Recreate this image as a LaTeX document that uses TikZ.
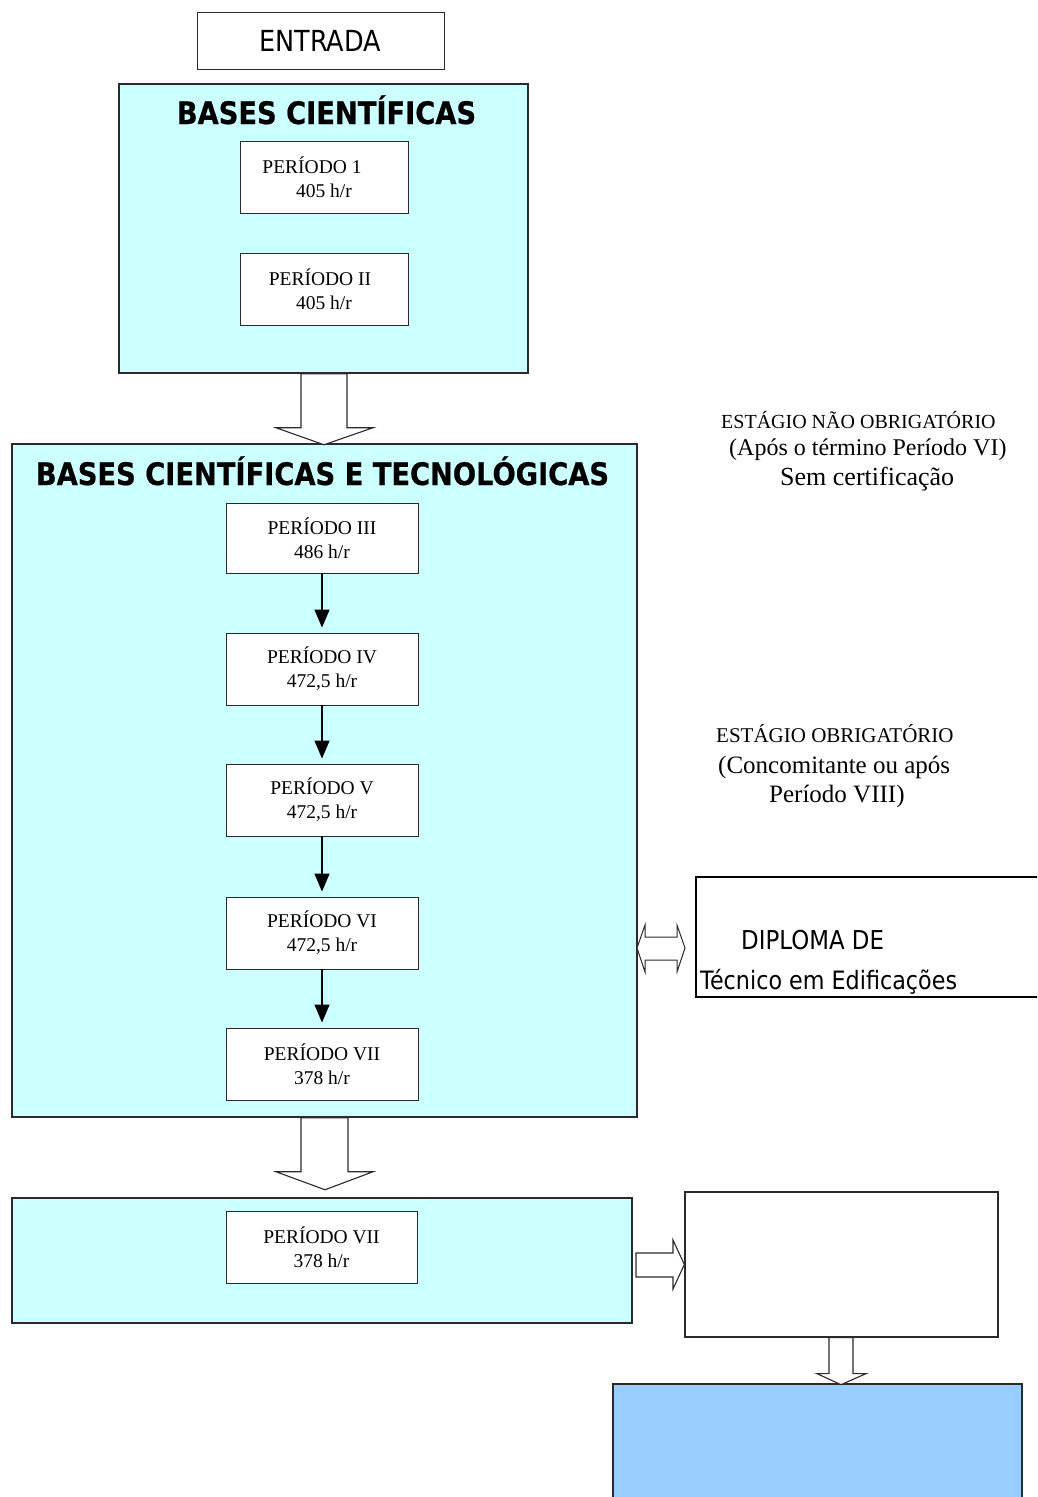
\documentclass[tikz,border=0pt]{standalone}
\usepackage{fontspec}
\setmainfont{Liberation Serif}
\newfontfamily\tah[FakeStretch=0.88, BoldFeatures={FakeBold=0.6}]{DejaVu Sans}
\usetikzlibrary{calc,arrows.meta}
\definecolor{lcyan}{HTML}{CCFFFF}
\definecolor{lblue}{HTML}{99CCFF}
\definecolor{edge}{HTML}{2A2A2A}
\begin{document}
\begin{tikzpicture}[x=1pt,y=-1pt,
  panel/.style={draw=edge, line width=1.5pt, fill=lcyan, inner sep=0pt},
  perbox/.style={draw=edge, line width=0.9pt, fill=white, minimum width=#1, minimum height=72pt,
     align=center, inner sep=0pt, font=\fontsize{19.5}{24}\selectfont},
  plainbox/.style={draw=edge, line width=1.3pt, fill=white, inner sep=0pt},
  blockarrow/.style={draw=edge, line width=1.1pt, fill=white, line join=miter},
  thinarrow/.style={draw=black, line width=1.3pt, shorten >=5pt, -{Triangle[length=18pt,width=15pt]}},
  title/.style={font=\tah\bfseries\fontsize{31}{36}\selectfont, inner sep=0pt, anchor=base},
  sanslbl/.style={font=\tah\fontsize{26}{31}\selectfont, inner sep=0pt},
  note/.style={inner sep=0pt, anchor=base west}
]
\useasboundingbox (0,0) rectangle (1037,1497);
\clip (0,0) rectangle (1037,1497);

% ENTRADA
\node[draw=edge, line width=1pt, minimum width=247pt, minimum height=57pt, inner sep=0pt] (ent) at (320.5,40.5) {};
\node[sanslbl, anchor=base, font=\tah\fontsize{29}{34}\selectfont] (entt) at (320,51.5) {ENTRADA};

% Panel 1
\node[panel, minimum width=409pt, minimum height=289pt] (b1) at (323.5,228.5) {};
\node[title] (t1) at (326.5,124) {BASES CIENTÍFICAS};
\node[perbox=168pt] (p1) at (324,177) {PERÍODO 1\hspace*{24pt}\\405 h/r};
\node[perbox=168pt] (p2) at (324,289) {PERÍODO II\hspace*{8pt}\\405 h/r};

% Panel 2
\node[panel, minimum width=625pt, minimum height=673pt] (b2) at (324.5,780.5) {};
\node[title] (t2) at (322.5,485) {BASES CIENTÍFICAS E TECNOLÓGICAS};
\node[perbox=192pt, minimum height=70pt] (p3) at (322,538) {PERÍODO III\\486 h/r};
\node[perbox=192pt] (p4) at (322,669) {PERÍODO IV\\472,5 h/r};
\node[perbox=192pt] (p5) at (322,800) {PERÍODO V\\472,5 h/r};
\node[perbox=192pt] (p6) at (322,933) {PERÍODO VI\\472,5 h/r};
\node[perbox=192pt] (p7) at (322,1064) {PERÍODO VII\\378 h/r};

\draw[thinarrow] (p3.south) -- (p4.north);
\draw[thinarrow] (p4.south) -- (p5.north);
\draw[thinarrow] (p5.south) -- (p6.north);
\draw[thinarrow] (p6.south) -- (p7.north);

% Panel 3
\node[panel, minimum width=620pt, minimum height=125pt] (b3) at (322,1260.5) {};
\node[perbox=191pt] (p8) at (321.5,1247) {PERÍODO VII\\378 h/r};

% Block arrow b1 -> b2
\draw[blockarrow] ($(b1.south)+(-22.5,0)$) -- ++(0,54) -- ++(-25,0)
   -- ($(b1.south)+(0.5,71)$) -- ($(b1.south)+(49.5,54)$) -- ++(-26,0) -- ++(0,-54) -- cycle;

% Block arrow b2 -> b3
\coordinate (a2) at (b2.south);
\draw[blockarrow] ($(a2)+(-23.5,0)$) -- ++(0,54) -- ++(-25,0)
   -- ($(a2)+(0.5,72)$) -- ($(a2)+(48.5,54)$) -- ++(-25,0) -- ++(0,-54) -- cycle;

% Diploma box
\node[draw=black, line width=2.2pt, minimum width=360pt, minimum height=120pt, inner sep=0pt] (dip) at (876,937) {};
\node[sanslbl, anchor=base west, font=\tah\fontsize{26}{31}\selectfont] (dip1) at (741,949) {DIPLOMA DE};
\node[sanslbl, anchor=base west, font=\tah\fontsize{25.3}{31}\selectfont] (dip2) at (700,989) {Técnico em Edificações};

% Double arrow b2 <-> dip
\draw[blockarrow, line width=1pt] (637,948) -- (645,925) -- (645,937) -- (677,937) -- (677,925) -- (685,948)
   -- (677,972) -- (677,960) -- (645,960) -- (645,972) -- cycle;

% White box and arrows
\node[plainbox, minimum width=313pt, minimum height=145pt] (wb) at (841.5,1264.5) {};
\draw[blockarrow] (636,1253) -- (673,1253) -- (673,1240) -- (wb.west) -- (673,1289) -- (673,1277) -- (636,1277) -- cycle;

\node[draw=edge, line width=1.3pt, fill=lblue, minimum width=409pt, minimum height=140pt, inner sep=0pt] (bb) at (817.5,1454) {};
\draw[blockarrow] ($(wb.south)+(-12.5,0)$) -- ++(0,36) -- ++(-12,0) -- ($(wb.south)+(-0.5,47)$)
   -- ($(wb.south)+(24.5,36)$) -- ++(-13,0) -- ++(0,-36) -- cycle;

% Notes
\node[note, font=\fontsize{20}{24}\selectfont] (n1) at (721,428) {ESTÁGIO NÃO OBRIGATÓRIO};
\node[note, font=\fontsize{24}{28}\selectfont] (n2) at (729,455) {(Após o término Período VI)};
\node[note, font=\fontsize{26}{30}\selectfont] (n3) at (780,485) {Sem certificação};
\node[note, font=\fontsize{21}{25}\selectfont] (n4) at (716,742) {ESTÁGIO OBRIGATÓRIO};
\node[note, font=\fontsize{25}{29}\selectfont] (n5) at (718,773) {(Concomitante ou após};
\node[note, font=\fontsize{25}{29}\selectfont] (n6) at (769,802) {Período VIII)};
\end{tikzpicture}
\end{document}
